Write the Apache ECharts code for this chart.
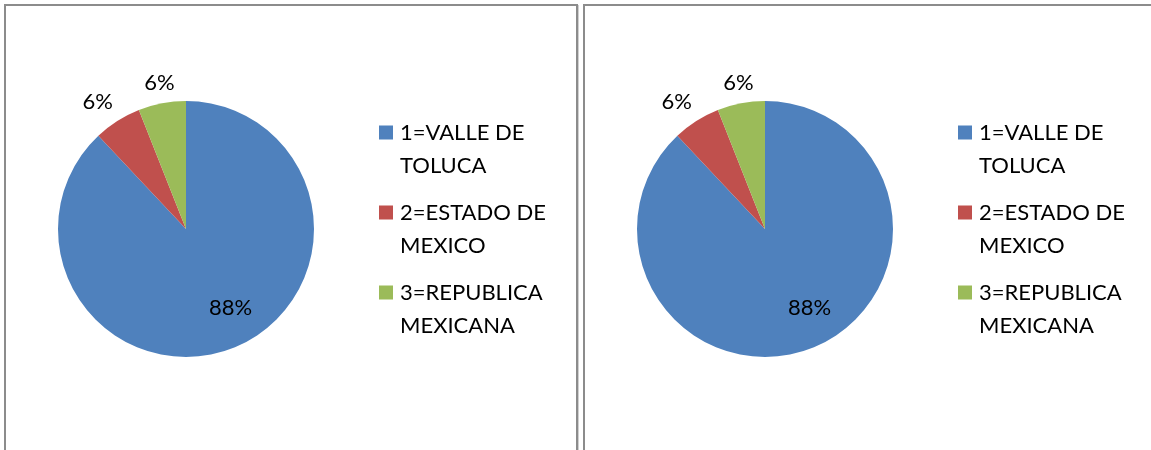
<!DOCTYPE html>
<html>
<head>
<meta charset="utf-8">
<script src="https://cdn.jsdelivr.net/npm/echarts@6/dist/echarts.min.js"></script>
<style>
    body { margin: 0; background: #fff; overflow: hidden; }
    .box {
        position: absolute; top: 4px; height: 470px;
        border: 2px solid #8c8c8c; box-shadow: 1px 1px 0 #d0d0d0;
    }
    #chart01 { left: 4px; width: 570px; }
    #chart02 { left: 583px; width: 580px; }
</style>
</head>
<body>
<div id="chart01" class="box"></div>
<div id="chart02" class="box"></div>
<script>
var categories = ['1=VALLE DE TOLUCA', '2=ESTADO DE MEXICO', '3=REPUBLICA MEXICANA'];
var values = [88, 6, 6];
var colors = ['#4F81BD', '#C0504D', '#9BBB59'];

function makeOption() {
    // 88% va dentro, los 6% afuera como en Excel
    var labelPos = [
        { position: 'inside', offset: [20, 17] },
        { position: 'outside', offset: [5, -4] },
        { position: 'outside', offset: [16, -3] }
    ];
    var data = categories.map(function (name, i) {
        return {
            name: name,
            value: values[i],
            itemStyle: { color: colors[i] },
            label: labelPos[i]
        };
    });
    return {
        animation: false,
        legend: {
            orient: 'vertical',
            left: 373,
            top: 110,
            padding: 0,
            itemGap: 14,
            itemWidth: 14,
            itemHeight: 47,
            icon: 'path://M0,0L14,0L14,14L0,14Z M0,47L0.01,47L0.01,46.99Z',
            selectedMode: false,
            data: categories,
            formatter: function (name) {
                return name.replace(/ (\S+)$/, '\n$1');
            },
            textStyle: {
                fontFamily: 'Lato',
                fontSize: 22,
                lineHeight: 33,
                color: '#000',
                padding: [0, 0, 0, 2]
            }
        },
        series: [{
            type: 'pie',
            center: [180, 223],
            radius: 128,
            startAngle: 90,
            clockwise: true,
            avoidLabelOverlap: false,
            itemStyle: { borderWidth: 0 },
            label: {
                show: true,
                formatter: '{d}%',
                fontFamily: 'Lato',
                fontSize: 22,
                color: '#000',
                distanceToLabelLine: 0
            },
            labelLine: { show: false, length: 18, length2: 0 },
            emphasis: { disabled: true },
            data: data
        }]
    };
}

var myChart01 = echarts.init(document.getElementById('chart01'));
myChart01.setOption(makeOption());
var myChart02 = echarts.init(document.getElementById('chart02'));
myChart02.setOption(makeOption());
</script>
</body>
</html>
